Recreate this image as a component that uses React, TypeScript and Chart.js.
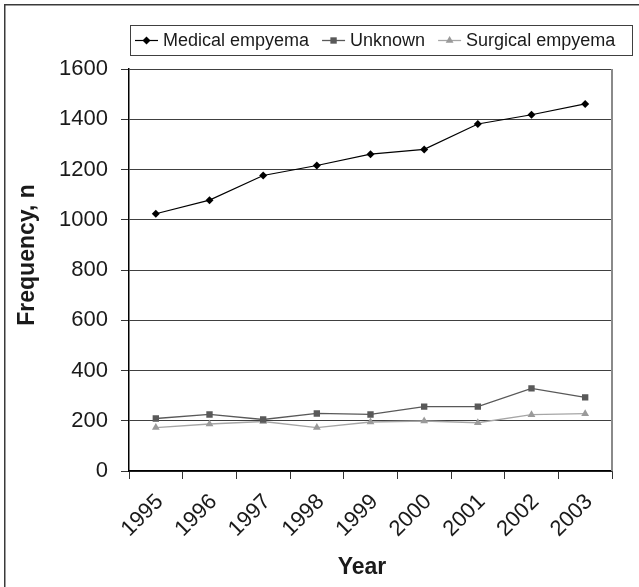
import React, { useEffect, useRef } from "react";
import { Chart, registerables } from "chart.js";

Chart.register(...registerables);

const years = ["1995", "1996", "1997", "1998", "1999", "2000", "2001", "2002", "2003"];
const medical = [1024, 1078, 1176, 1216, 1261, 1280, 1381, 1418, 1461];
const unknown = [209, 225, 205, 229, 225, 256, 256, 329, 293];
const surgical = [173, 187, 197, 173, 195, 199, 192, 224, 228];
const seriesNames = ["Medical empyema", "Unknown", "Surgical empyema"];
const yMin = 0;
const yMax = 1600;
const yStep = 200;
const xTitle = "Year";
const yTitle = "Frequency, n";

const FONT = '"Liberation Sans", Arial, sans-serif';
const TEXT = "#1a1a1a";

function drawMarker(ctx: CanvasRenderingContext2D, style: string, x: number, y: number, r: number, color: string) {
  ctx.save();
  ctx.fillStyle = color;
  ctx.beginPath();
  if (style === "rectRot") {
    ctx.moveTo(x, y - r);
    ctx.lineTo(x + r, y);
    ctx.lineTo(x, y + r);
    ctx.lineTo(x - r, y);
  } else if (style === "rect") {
    const s = r * Math.SQRT1_2;
    ctx.rect(x - s, y - s, 2 * s, 2 * s);
  } else {
    const h = r * 1.5;
    const w = r * Math.sqrt(3) / 2;
    ctx.moveTo(x, y - r);
    ctx.lineTo(x + w, y - r + h);
    ctx.lineTo(x - w, y - r + h);
  }
  ctx.closePath();
  ctx.fill();
  ctx.restore();
}

const decorPlugin = {
  id: "decor",
  beforeDraw(chart: any) {
    const ctx = chart.ctx as CanvasRenderingContext2D;
    ctx.save();
    ctx.strokeStyle = "#3a3a3a";
    ctx.lineWidth = 1.5;
    ctx.beginPath();
    ctx.moveTo(4.75, 600);
    ctx.lineTo(4.75, 4.75);
    ctx.lineTo(650, 4.75);
    ctx.stroke();
    ctx.restore();
  },
  afterDraw(chart: any) {
    const ctx = chart.ctx as CanvasRenderingContext2D;
    const area = chart.chartArea;
    // right border of plot
    ctx.save();
    ctx.strokeStyle = "#8a8a8a";
    ctx.lineWidth = 2;
    ctx.beginPath();
    ctx.moveTo(area.right, area.top);
    ctx.lineTo(area.right, area.bottom);
    ctx.stroke();
    ctx.restore();

    // legend
    ctx.save();
    ctx.strokeStyle = "#404040";
    ctx.lineWidth = 1;
    ctx.strokeRect(130.5, 25.5, 502, 30);
    ctx.font = `18px ${FONT}`;
    ctx.textBaseline = "middle";
    ctx.textAlign = "left";
    const cy = 40.5;
    let x = 135;
    chart.data.datasets.forEach((ds: any) => {
      ctx.strokeStyle = ds.borderColor;
      ctx.lineWidth = ds.borderWidth;
      ctx.beginPath();
      ctx.moveTo(x, cy);
      ctx.lineTo(x + 23, cy);
      ctx.stroke();
      drawMarker(ctx, ds.pointStyle, x + 11.5, cy, ds.pointRadius, ds.pointBackgroundColor);
      x += 28;
      ctx.fillStyle = TEXT;
      ctx.fillText(ds.label, x, cy + 1);
      x += ctx.measureText(ds.label).width + 13;
    });
    ctx.restore();

    // axis titles
    ctx.save();
    ctx.font = `bold 23px ${FONT}`;
    ctx.fillStyle = TEXT;
    ctx.textAlign = "center";
    ctx.textBaseline = "middle";
    ctx.fillText(xTitle, 362, 568);
    ctx.translate(28, 255);
    ctx.rotate(-Math.PI / 2);
    ctx.fillText(yTitle, 0, 0);
    ctx.restore();
  },
};

export default function App() {
  const ref = useRef<HTMLCanvasElement | null>(null);
  useEffect(() => {
    if (!ref.current) return;
    const chart = new Chart(ref.current, {
      type: "line",
      data: {
        labels: years,
        datasets: [
          {
            label: seriesNames[0],
            data: medical,
            borderColor: "#000000",
            backgroundColor: "#000000",
            pointBackgroundColor: "#000000",
            pointBorderColor: "#000000",
            borderWidth: 1.2,
            pointStyle: "rectRot",
            pointRadius: 4,
            pointBorderWidth: 0,
            tension: 0,
          },
          {
            label: seriesNames[1],
            data: unknown,
            borderColor: "#595959",
            backgroundColor: "#595959",
            pointBackgroundColor: "#595959",
            pointBorderColor: "#595959",
            borderWidth: 1.3,
            pointStyle: "rect",
            pointRadius: 4.5,
            pointBorderWidth: 0,
            tension: 0,
          },
          {
            label: seriesNames[2],
            data: surgical,
            borderColor: "#a6a6a6",
            backgroundColor: "#9a9a9a",
            pointBackgroundColor: "#9a9a9a",
            pointBorderColor: "#9a9a9a",
            borderWidth: 1.3,
            pointStyle: "triangle",
            pointRadius: 4.5,
            pointBorderWidth: 0,
            tension: 0,
          },
        ],
      },
      options: {
        responsive: false,
        animation: false,
        devicePixelRatio: 1,
        layout: { padding: { left: 0, top: 69, right: 27, bottom: 0 } },
        plugins: {
          legend: { display: false },
          tooltip: { enabled: false },
          title: { display: false },
        },
        scales: {
          x: {
            type: "category",
            offset: true,
            grid: {
              offset: true,
              drawOnChartArea: false,
              drawTicks: true,
              tickLength: 8,
              color: "#333333",
              tickColor: "#333333",
            },
            border: { display: true, color: "#000000", width: 1.5 },
            ticks: {
              minRotation: 45,
              maxRotation: 45,
              autoSkip: false,
              padding: 10,
              labelOffset: 4,
              color: TEXT,
              font: { family: FONT, size: 22 },
            },
            afterFit(scale: any) {
              scale.height = 116;
            },
          },
          y: {
            min: yMin,
            max: yMax,
            grid: {
              color: "#404040",
              lineWidth: 1,
              tickLength: 8,
              tickColor: "#333333",
            },
            border: { display: true, color: "#000000", width: 1.5 },
            ticks: {
              stepSize: yStep,
              padding: 13,
              color: TEXT,
              font: { family: FONT, size: 22 },
              callback: (v: any) => String(v),
            },
            afterFit(scale: any) {
              scale.width = 129;
            },
          },
        },
      },
      plugins: [decorPlugin],
    });
    return () => chart.destroy();
  }, []);

  return (
    <div style={{ position: "fixed", left: 0, top: 0, width: 639, height: 587, background: "#fff" }}>
      <canvas ref={ref} width={639} height={587} style={{ width: 639, height: 587, display: "block" }} />
    </div>
  );
}
